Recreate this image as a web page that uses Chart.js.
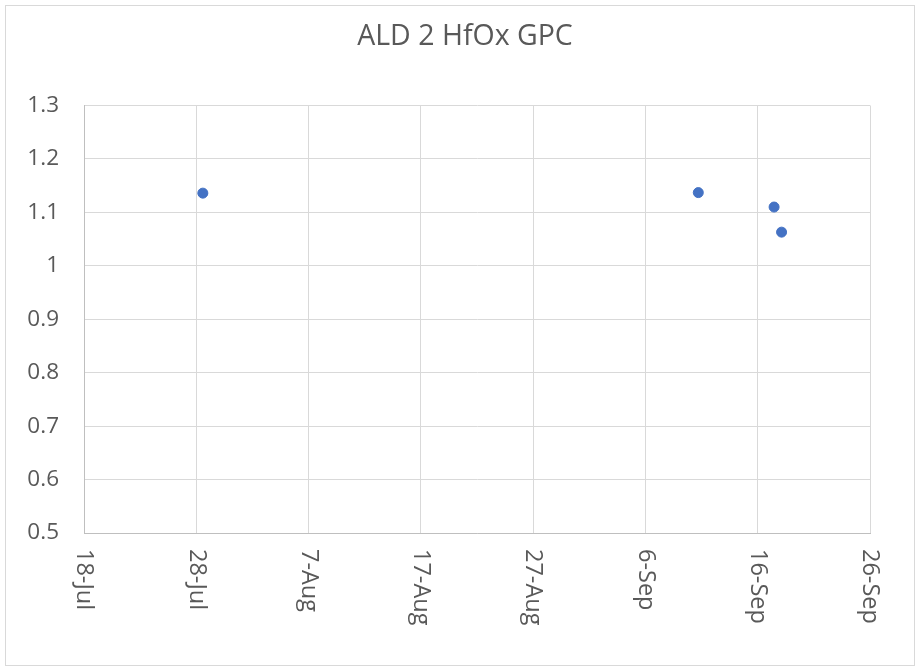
<!DOCTYPE html>
<html><head><meta charset="utf-8">
<script src="https://cdn.jsdelivr.net/npm/chart.js@4/dist/chart.umd.min.js"></script>
<style>html,body{margin:0;padding:0;background:#fff;}#wrap{width:920px;height:671px;position:relative;}</style>
</head><body>
<div id="wrap"><canvas id="c" width="920" height="671"></canvas></div>
<script>
const chartTitle = 'ALD 2 HfOx GPC';
const baseDate = '2020-07-18';
const axisMinDays = 0, axisMaxDays = 70, axisStepDays = 10;
const sampleDates = ['2020-07-28T14:00', '2020-09-10T17:00', '2020-09-17T11:00', '2020-09-18T03:00'];
const gpcValues = [1.136, 1.137, 1.110, 1.063];
const yMin = 0.5, yMax = 1.3, yStep = 0.1;
const monthNames = ['Jan','Feb','Mar','Apr','May','Jun','Jul','Aug','Sep','Oct','Nov','Dec'];

const DAY = 86400000;
const baseMs = Date.parse(baseDate + 'T00:00:00Z');
const points = sampleDates.map((d, i) => ({x: (Date.parse(d + ':00Z') - baseMs) / DAY, y: gpcValues[i]}));
function fmtDay(v) { const d = new Date(baseMs + v * DAY); return d.getUTCDate() + '-' + monthNames[d.getUTCMonth()]; }

const FONT = '"Open Sans", "DejaVu Sans", sans-serif';
const TXT = '#595959';

const decor = {
  id: 'decor',
  beforeDraw(chart) {
    const ctx = chart.ctx;
    ctx.save();
    ctx.fillStyle = '#fff';
    ctx.fillRect(0, 0, chart.width, chart.height);
    ctx.strokeStyle = '#d9d9d9';
    ctx.lineWidth = 1;
    ctx.strokeRect(5.5, 5.5, 909, 660);
    ctx.restore();
  },
  afterDraw(chart) {
    const ctx = chart.ctx, xs = chart.scales.x;
    ctx.save();
    ctx.fillStyle = TXT;
    ctx.font = '28.5px ' + FONT;
    ctx.textAlign = 'center';
    ctx.textBaseline = 'alphabetic';
    ctx.fillText(chartTitle, 465, 45);
    ctx.font = '23.5px ' + FONT;
    ctx.textAlign = 'left';
    ctx.textBaseline = 'middle';
    xs.ticks.forEach(t => {
      const px = xs.getPixelForValue(t.value);
      ctx.save();
      ctx.translate(px, 549);
      ctx.rotate(Math.PI / 2);
      ctx.fillText(fmtDay(t.value), 0, 0);
      ctx.restore();
    });
    ctx.restore();
  }
};

new Chart(document.getElementById('c'), {
  type: 'scatter',
  data: { datasets: [{ label: chartTitle, data: points, backgroundColor: '#4472C4', borderColor: '#4472C4', pointRadius: 5, pointHoverRadius: 5 }] },
  options: {
    responsive: false, animation: false, devicePixelRatio: 1,
    layout: { padding: { left: 0, right: 50, top: 105.5, bottom: 138 } },
    plugins: {
      legend: { display: false }, tooltip: { enabled: false },
      title: { display: false }
    },
    scales: {
      x: {
        type: 'linear', min: axisMinDays, max: axisMaxDays,
        ticks: { stepSize: axisStepDays, display: false },
        grid: { color: '#d9d9d9', drawTicks: false, tickLength: 0 },
        border: { color: '#bfbfbf' },
        afterFit(s) { s.height = 0; }
      },
      y: {
        min: yMin, max: yMax,
        ticks: { stepSize: yStep, color: TXT, padding: 25, font: { family: FONT, size: 22.5 }, callback: v => String(Number(v.toFixed(1))) },
        grid: { color: '#d9d9d9', drawTicks: false, tickLength: 0 },
        border: { color: '#bfbfbf' },
        afterFit(s) { s.width = 84; }
      }
    }
  },
  plugins: [decor]
});
</script>
</body></html>
